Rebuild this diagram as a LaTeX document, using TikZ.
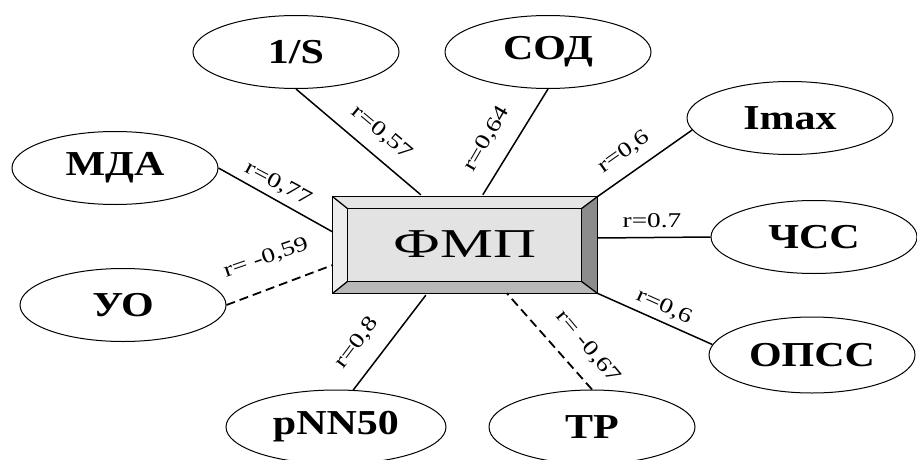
\documentclass[tikz,border=0pt]{standalone}
\usepackage{fontspec}
\setmainfont{Liberation Serif}
\newfontfamily\ellfont{Liberation Serif}[FakeStretch=1.2]
\newfontfamily\boxfont{Liberation Serif}[FakeStretch=1.45]
\newfontfamily\lblfont{Liberation Serif}[FakeStretch=1.3]
\usetikzlibrary{shapes.geometric,calc}
\begin{document}
\begin{tikzpicture}[x=1pt,y=1pt,
  ell/.style={draw, line width=1pt, ellipse, inner sep=0pt, minimum width=206pt, minimum height=73pt,
    font=\ellfont\bfseries\fontsize{35}{35}\selectfont},
  conn/.style={line width=1.5pt},
  dconn/.style={line width=1.8pt, dash pattern=on 9pt off 5pt},
  lbl/.style={inner sep=0pt, font=\lblfont\fontsize{21}{21}\selectfont},
  face/.style={draw=black, line width=1.3pt, line join=miter}]
\useasboundingbox (0,0) rectangle (917,459);
% central box
\node[minimum width=264pt, minimum height=96pt, inner sep=0pt] (fmp) at (465,214) {};
\coordinate (i1) at ($(fmp.north west)+(15,-12)$);
\coordinate (i2) at ($(fmp.north east)+(-16,-12)$);
\coordinate (i3) at ($(fmp.south east)+(-16,12)$);
\coordinate (i4) at ($(fmp.south west)+(15,12)$);
\fill[black!10] (fmp.north west) -- (fmp.north east) -- (i2) -- (i1) -- cycle;
\fill[black!7] (fmp.north west) -- (i1) -- (i4) -- (fmp.south west) -- cycle;
\fill[black!45] (fmp.north east) -- (fmp.south east) -- (i3) -- (i2) -- cycle;
\fill[black!28] (fmp.south west) -- (i4) -- (i3) -- (fmp.south east) -- cycle;
\fill[black!11] (i1) rectangle (i3);
\draw[face] (fmp.north west) rectangle (fmp.south east);
\draw[face] (i1) rectangle (i3);
\draw[face] (fmp.north west) -- (i1) (fmp.north east) -- (i2) (fmp.south east) -- (i3) (fmp.south west) -- (i4);
\node[font=\boxfont\fontsize{41}{41}\selectfont] (fmpt) at (465,215) {ФМП};
% outer nodes
\node[ell] (s) at (296,407) {1/S};
\node[ell] (sod) at (548,407) {СОД};
\node[ell] (mda) at (115,291) {МДА};
\node[ell] (uo) at (123,154) {УО};
\node[ell] (imax) at (790,341) {Imax};
\node[ell] (chss) at (814,222) {ЧСС};
\node[ell, minimum height=76pt] (opss) at (812,104) {ОПСС};
\node[ell, minimum width=220pt, minimum height=74pt] (pnn) at (336,32) {pNN50};
\node[ell, minimum height=74pt] (tr) at (592,32) {ТР};
% connectors
\draw[conn] (s.south) -- ($(fmp.north west)+(88,2)$) coordinate (c1);
\draw[conn] (sod.south) -- ($(fmp.north west)+(150,2)$) coordinate (c2);
\draw[conn] (mda.east) -- ($(fmp.west)+(0,13)$) coordinate (c3);
\draw[dconn] (uo.east) -- ($(fmp.west)+(0,-20)$) coordinate (c4);
\draw[conn] (imax.187) -- (fmp.north east);
\draw[conn] (chss.west) -- ($(fmp.east)+(0,7)$) coordinate (c6);
\draw[conn] (opss.174) -- (fmp.south east);
\draw[conn] (pnn.65) -- ($(fmp.south west)+(93,-2)$) coordinate (c8);
\draw[dconn] (tr.north) -- ($(fmp.south west)+(174,0)$) coordinate (c9);
% labels
\node[lbl, rotate=-40] (l1) at (382,326) {r=0,57};
\node[lbl, rotate=60] (l2) at (487,320) {r=0,64};
\node[lbl, rotate=-28] (l3) at (278,275) {r=0,77};
\node[lbl, rotate=19] (l4) at (266,201) {r= -0,59};
\node[lbl, rotate=35] (l5) at (624,307) {r=0,6};
\node[lbl] (l6) at (652,238) {r=0.7};
\node[lbl, rotate=-24] (l7) at (664,152) {r=0,6};
\node[lbl, rotate=53] (l8) at (357,116) {r=0,8};
\node[lbl, rotate=-50] (l9) at (588,112) {r= -0,67};
\end{tikzpicture}
\end{document}
